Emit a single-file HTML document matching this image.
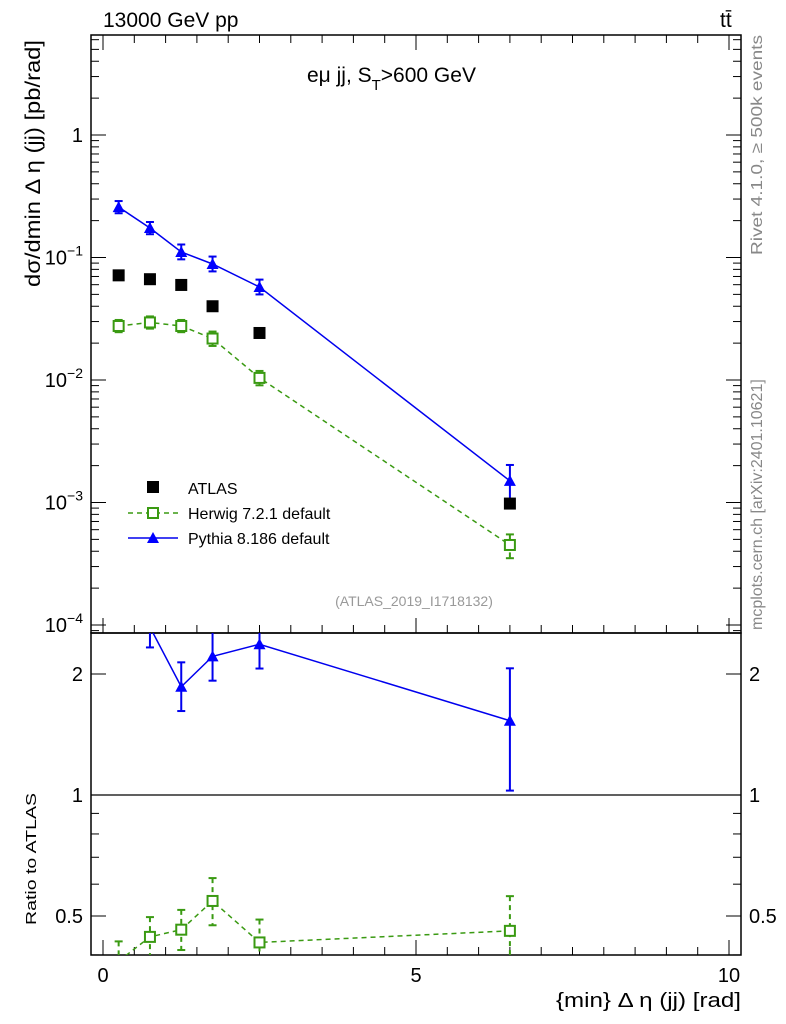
<!DOCTYPE html>
<html><head><meta charset="utf-8"><style>
html,body{margin:0;padding:0;background:#fff;}
svg{display:block;font-family:"Liberation Sans",sans-serif;}
</style></head><body>
<svg id="chart" width="786" height="1024" viewBox="0 0 786 1024" xmlns="http://www.w3.org/2000/svg">
<text x="103" y="27" font-size="21">13000 GeV pp</text>
<text x="720" y="27" font-size="21">tt̄</text>
<text x="307" y="82" font-size="21">eμ jj, S<tspan font-size="15" dy="8">T</tspan><tspan dy="-8">&gt;600 GeV</tspan></text>
<text x="414" y="606" font-size="14" fill="#999" text-anchor="middle">(ATLAS_2019_I1718132)</text>
<text transform="translate(762,255) rotate(-90)" font-size="16" fill="#888" textLength="220" lengthAdjust="spacingAndGlyphs">Rivet 4.1.0, ≥ 500k events</text>
<text transform="translate(762,630) rotate(-90)" font-size="16" fill="#888">mcplots.cern.ch [arXiv:2401.10621]</text>
<text transform="translate(40,287) rotate(-90)" font-size="21" textLength="247" lengthAdjust="spacingAndGlyphs">dσ/dmin Δ η (jj) [pb/rad]</text>
<text transform="translate(36,925) rotate(-90)" font-size="15" textLength="132" lengthAdjust="spacingAndGlyphs">Ratio to ATLAS</text>
<text x="556" y="1007" font-size="20" textLength="185" lengthAdjust="spacingAndGlyphs">{min} Δ η (jj) [rad]</text>
<g id="g"></g>
</svg>
<script>
const xVals=[0.25,0.75,1.25,1.75,2.5,6.5];
const atlas=[0.0715,0.0665,0.0597,0.040,0.0242,0.00098];
const herwig=[0.0276,0.0295,0.0276,0.0218,0.0104,0.00045];
const herwigUp=[1.12,1.12,1.12,1.14,1.14,1.22];
const herwigDn=[0.89,0.89,0.89,0.87,0.87,0.78];
const pythia=[0.258,0.174,0.111,0.0885,0.0574,0.0015];
const pythiaUp=[1.12,1.12,1.15,1.15,1.15,1.35];
const pythiaDn=[0.89,0.89,0.87,0.87,0.87,0.67];
const xTicks=[0,5,10];
const yTickExp=[-4,-3,-2,-1,0];
const rTicks=[0.5,1,2];

const NS="http://www.w3.org/2000/svg",G=document.getElementById('g');
const L=91,R=741,T=35,M=633,B=955;
const X=v=>103+v*62.6;
const Y=v=>135-122.5*Math.log10(v);
const RY=v=>795-121*Math.log2(v);
function el(t,a,p){const e=document.createElementNS(NS,t);for(const k in a)e.setAttribute(k,a[k]);(p||G).appendChild(e);return e;}
const clipM=el('clipPath',{id:'cm'});el('rect',{x:L,y:T,width:R-L,height:M-T},clipM);
const clipR=el('clipPath',{id:'cr'});el('rect',{x:L,y:M,width:R-L,height:B-M},clipR);
let f=el('rect',{x:L,y:T,width:R-L,height:M-T,fill:'none',stroke:'#000','stroke-width':1.5});

f=el('rect',{x:L,y:M,width:R-L,height:B-M,fill:'none',stroke:'#000','stroke-width':1.5});

for(let e=-5;e<=1;e++)for(let m=1;m<=9;m++){const v=m*Math.pow(10,e),y=Y(v);if(y<T||y>M)continue;const len=m==1?15:8;
el('line',{x1:L,x2:L+len,y1:y,y2:y,stroke:'#000'});el('line',{x1:R,x2:R-len,y1:y,y2:y,stroke:'#000'});}
yTickExp.forEach(e=>{const t=el('text',{x:L-8,y:Y(Math.pow(10,e))+7,'font-size':20,'text-anchor':'end'});

if(e===0)t.textContent='1';else{t.textContent='10';const s=el('tspan',{dy:-9,'font-size':14},t);s.textContent=String(e).replace('-','−');}});
[0.4,0.5,0.6,0.7,0.8,0.9,1,2].forEach(v=>{const y=RY(v);if(y<M||y>B)return;const len=(v==0.5||v==1||v==2)?15:8;
el('line',{x1:L,x2:L+len,y1:y,y2:y,stroke:'#000'});el('line',{x1:R,x2:R-len,y1:y,y2:y,stroke:'#000'});});
rTicks.forEach(v=>{let t=el('text',{x:L-8,y:RY(v)+7,'font-size':20,'text-anchor':'end'});t.textContent=String(v);

t=el('text',{x:R+8,y:RY(v)+7,'font-size':20});t.textContent=String(v);
});
el('line',{x1:L,x2:R,y1:RY(1),y2:RY(1),stroke:'#000','stroke-width':1.2});
for(let v=0;v<=10.01;v+=0.5){const x=X(v),len=(v%5==0)?15:8;
el('line',{x1:x,x2:x,y1:B,y2:B-len,stroke:'#000'});el('line',{x1:x,x2:x,y1:T,y2:T+len,stroke:'#000'});
el('line',{x1:x,x2:x,y1:M,y2:M-len,stroke:'#000'});}
xTicks.forEach(v=>{const t=el('text',{x:X(v),y:982,'font-size':20,'text-anchor':'middle'});t.textContent=String(v);
});
function sq(p,x,y,s,fill,col){return el('rect',{x:x-s,y:y-s,width:2*s,height:2*s,fill:fill,stroke:col,'stroke-width':2},p);}
function tri(p,x,y){return el('polygon',{points:`${x-6},${y+5} ${x+6},${y+5} ${x},${y-6}`,fill:'#00f'},p);}
function series(vals,up,dn,col,dash,marker,Yf,ref,clip,name){
 const g=el('g',{'clip-path':`url(#${clip})`});
 
 const v=vals.map((a,i)=>ref?a/ref[i]:a);
 el('polyline',{points:v.map((a,i)=>X(xVals[i])+','+Yf(a)).join(' '),fill:'none',stroke:col,'stroke-width':1.5,'stroke-dasharray':dash||''},g);
 v.forEach((a,i)=>{const x=X(xVals[i]);
  el('line',{x1:x,x2:x,y1:Yf(a*up[i]),y2:Yf(a*dn[i]),stroke:col,'stroke-width':2,'stroke-dasharray':dash||''},g);
  el('line',{x1:x-4,x2:x+4,y1:Yf(a*up[i]),y2:Yf(a*up[i]),stroke:col,'stroke-width':2},g);
  el('line',{x1:x-4,x2:x+4,y1:Yf(a*dn[i]),y2:Yf(a*dn[i]),stroke:col,'stroke-width':2},g);
  const m=marker==='sq'?sq(g,x,Yf(a),5,'#fff',col):tri(g,x,Yf(a));
  });
}
series(herwig,herwigUp,herwigDn,'#3a9a12','5,4','sq',Y,null,'cm','herwig-series');
series(pythia,pythiaUp,pythiaDn,'#0000ee','','tri',Y,null,'cm','pythia-series');
const ag=el('g',{});
atlas.forEach((a,i)=>{const r=el('rect',{x:X(xVals[i])-6,y:Y(a)-6,width:12,height:12,fill:'#000'},ag);
});
series(herwig,herwigUp,herwigDn,'#3a9a12','5,4','sq',RY,atlas,'cr','herwig-ratio');
series(pythia,pythiaUp,pythiaDn,'#0000ee','','tri',RY,atlas,'cr','pythia-ratio');
const lg=el('g',{});
el('rect',{x:147,y:481,width:12,height:12,fill:'#000'},lg);
el('line',{x1:128,x2:178,y1:513,y2:513,stroke:'#3a9a12','stroke-width':1.5,'stroke-dasharray':'5,4'},lg);sq(lg,153,513,5,'#fff','#3a9a12');
el('line',{x1:128,x2:178,y1:538,y2:538,stroke:'#0000ee','stroke-width':1.5},lg);tri(lg,153,538);
[['ATLAS',494],['Herwig 7.2.1 default',519],['Pythia 8.186 default',544]].forEach(([s,y])=>{const t=el('text',{x:188,y:y,'font-size':16},lg);t.textContent=s;
});
</script>
</body></html>
